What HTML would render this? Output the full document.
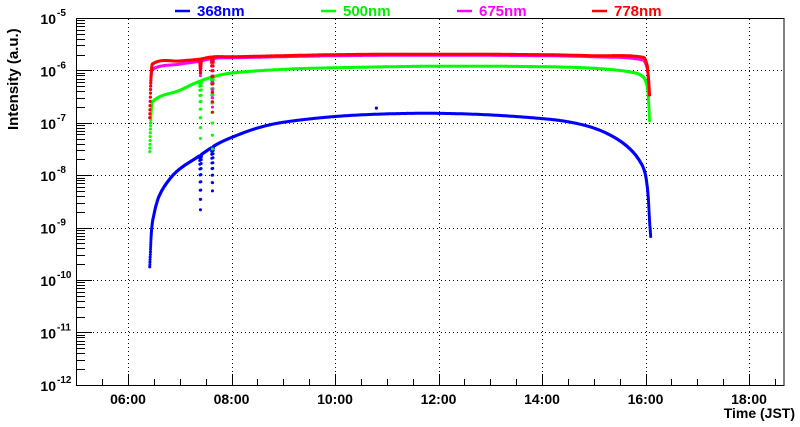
<!DOCTYPE html>
<html><head><meta charset="utf-8"><style>
html,body{margin:0;padding:0;background:#fff;}
svg{display:block;font-family:"Liberation Sans",Arial,sans-serif;font-weight:bold;}
</style></head><body>
<svg id="s" width="800" height="427" viewBox="0 0 800 427" xmlns="http://www.w3.org/2000/svg">
<rect x="0" y="0" width="800" height="427" fill="#fff"/>
<g id="grid" stroke="#000" stroke-width="1" stroke-dasharray="1,3"></g>
<g id="data"></g>
<rect x="76.5" y="18.5" width="707.5" height="367" fill="none" stroke="#000" stroke-width="1"/>
<g id="ticks" stroke="#000" stroke-width="1"></g>
<g id="labels" font-size="14" fill="#000"></g>
<text x="0" y="0" transform="translate(18,130) rotate(-90)" font-size="15">Intensity (a.u.)</text>
<text x="795" y="418" font-size="14" text-anchor="end">Time (JST)</text>
<g font-size="15">
<line x1="175" y1="11" x2="190" y2="11" stroke="#0000ff" stroke-width="2.5"/><text x="197" y="16" fill="#0000ff">368nm</text>
<line x1="321" y1="11" x2="336" y2="11" stroke="#00ff00" stroke-width="2.5"/><text x="343" y="16" fill="#00ee00">500nm</text>
<line x1="457" y1="11" x2="472" y2="11" stroke="#ff00ff" stroke-width="2.5"/><text x="479" y="16" fill="#ff00ff">675nm</text>
<line x1="592" y1="11" x2="607" y2="11" stroke="#ff0000" stroke-width="2.5"/><text x="614" y="16" fill="#ff0000">778nm</text>
</g>
</svg>
<script>
var NS="http://www.w3.org/2000/svg";
function X(t){return 76.25+(t-5)*51.75;}
function Y(l){return 18+(-5-l)*52.4;}
function el(p,n,a){var e=document.createElementNS(NS,n);for(var k in a)e.setAttribute(k,a[k]);p.appendChild(e);return e;}
var grid=document.getElementById('grid'),ticks=document.getElementById('ticks'),labels=document.getElementById('labels');
for(var h=6;h<=18;h+=2){var x=Math.round(X(h))+0.5;el(grid,'line',{x1:x,y1:19,x2:x,y2:385});
var tx=el(labels,'text',{x:X(h),y:404,'text-anchor':'middle'});tx.textContent=(h<10?'0':'')+h+':00';}
for(var d=-6;d>=-11;d--){var y=Math.round(Y(d))+0.5;el(grid,'line',{x1:77,y1:y,x2:784,y2:y});}
for(var t=5.5;t<18.8;t+=0.5){var x=Math.round(X(t))+0.5;el(ticks,'line',{x1:x,y1:386,x2:x,y2:(t%2==0)?374:379});}
for(var d=-12;d<=-5;d++){var y=Math.round(Y(d))+0.5;el(ticks,'line',{x1:77,y1:y,x2:92,y2:y});
var tx=el(labels,'text',{x:56,y:Y(d)+6,'text-anchor':'end'});tx.textContent='10';
var sp=el(labels,'text',{x:57,y:Y(d)-2,'font-size':'10'});sp.textContent=String(d);
if(d<-5)for(var m=2;m<=9;m++){var yy=Math.round(Y(d+Math.log10(m)))+0.5;el(ticks,'line',{x1:77,y1:yy,x2:85,y2:yy});}}
function cr(pts,t){
  for(var i=0;i<pts.length-1;i++){
    if(t>=pts[i][0]&&t<=pts[i+1][0]){
      var p0=pts[Math.max(0,i-1)],p1=pts[i],p2=pts[i+1],p3=pts[Math.min(pts.length-1,i+2)];
      var h=p2[0]-p1[0],u=(t-p1[0])/h;
      var m1=(p2[1]-p0[1])/(p2[0]-p0[0])*h, m2=(p3[1]-p1[1])/(p3[0]-p1[0])*h;
      if(i==0)m1=(p2[1]-p1[1]);if(i+1==pts.length-1)m2=(p2[1]-p1[1]);
      var u2=u*u,u3=u2*u;
      return (2*u3-3*u2+1)*p1[1]+(u3-2*u2+u)*m1+(-2*u3+3*u2)*p2[1]+(u3-u2)*m2;}}
  return null;}
var series=[
{c:'#0000ff',p:[[6.42,-9.75],[6.45,-9.1],[6.5,-8.75],[6.6,-8.4],[6.8,-8.08],[7.0,-7.88],[7.35,-7.65],[7.7,-7.42],[8,-7.28],[8.5,-7.1],[9,-6.99],[10,-6.88],[11,-6.83],[12,-6.82],[13,-6.85],[14,-6.92],[14.5,-6.98],[15,-7.1],[15.4,-7.28],[15.7,-7.5],[15.9,-7.75],[16.0,-8.0],[16.05,-8.4],[16.08,-8.9],[16.1,-9.2]],dips:[[7.4,-8.66],[7.63,-8.3]]},
{c:'#00ff00',p:[[6.42,-7.55],[6.44,-6.9],[6.47,-6.6],[7.0,-6.38],[7.35,-6.22],[7.65,-6.12],[8,-6.05],[9,-5.98],[10,-5.95],[12,-5.92],[14,-5.93],[15,-5.96],[15.7,-6.03],[15.95,-6.12],[16.03,-6.3],[16.06,-6.6],[16.08,-7.0]],dips:[[7.4,-7.3],[7.63,-7.5]]},
{c:'#ff00ff',p:[[6.42,-6.9],[6.44,-6.2],[6.47,-5.98],[7.0,-5.88],[7.35,-5.83],[7.65,-5.77],[8,-5.76],[10,-5.72],[12,-5.71],[14,-5.72],[15,-5.74],[15.95,-5.8],[16.03,-5.95],[16.06,-6.2],[16.08,-6.5]],dips:[[7.4,-6.1],[7.63,-6.7]]},
{c:'#ff0000',p:[[6.42,-6.9],[6.44,-6.2],[6.47,-5.88],[7.0,-5.82],[7.35,-5.79],[7.65,-5.74],[8,-5.74],[10,-5.7],[12,-5.69],[14,-5.7],[15,-5.72],[15.95,-5.75],[16.03,-5.9],[16.06,-6.2],[16.08,-6.5]],dips:[[7.4,-6.05],[7.63,-6.8]]}
];
var data=document.getElementById('data');
series.forEach(function(s){var d='';var p=s.p;
for(var t=p[0][0];t<=p[p.length-1][0];t+=0.002){var v=cr(p,t);if(v===null)continue;
 s.dips.forEach(function(q){var w=0.02;if(Math.abs(t-q[0])<w){var f=1-Math.abs(t-q[0])/w;v=v+(q[1]-v)*f*f;}});
 var x=X(t),y=Y(v);d+='M'+x.toFixed(1)+' '+y.toFixed(1)+'h0.1';}
el(data,'path',{d:d,stroke:s.c,'stroke-width':3,'stroke-linecap':'round',fill:'none'});});
el(data,'circle',{cx:X(10.8),cy:Y(-6.72),r:1.6,fill:'#0000ff'});
</script>
</body></html>
